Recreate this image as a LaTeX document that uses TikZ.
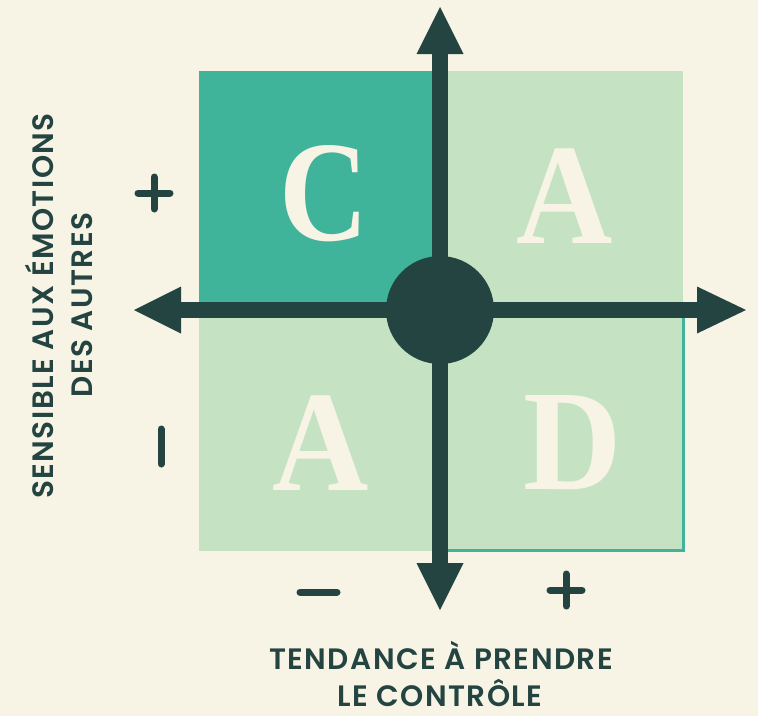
\documentclass[tikz,border=0pt]{standalone}
\usepackage{fontspec}
\newfontfamily\labelfont{Poppins SemiBold}[LetterSpace=5]
\newfontfamily\letterfont{Liberation Serif}
\definecolor{cream}{HTML}{F7F4E6}
\definecolor{tealq}{HTML}{40B49A}
\definecolor{lightq}{HTML}{C5E3C3}
\definecolor{darkq}{HTML}{244442}
\newcommand{\bigletter}[2]{\scalebox{#1}[1]{\letterfont\bfseries\fontsize{143.5}{143.5}\selectfont #2}}
\begin{document}
\begin{tikzpicture}[x=1pt,y=-1pt,
  lettr/.style={text=cream,anchor=base,inner sep=0pt},
  axislabel/.style={text=darkq,font=\labelfont\fontsize{29.5}{29.5}\selectfont,anchor=base,inner sep=0pt},
  sign/.style={draw=darkq,line width=7pt,line cap=round}]
\fill[cream] (0,0) rectangle (758,716);
\useasboundingbox (0,0) rectangle (758,716);
% quadrants
\fill[tealq] (199,71) rectangle (440,310);
\fill[lightq] (440,71) rectangle (683,310);
\fill[lightq] (199,310) rectangle (440,551);
\filldraw[fill=lightq,draw=tealq,line width=2.5pt] (440,310) rectangle (683.5,550.5);
% letters
\node[lettr] (lc) at (324,240) {\bigletter{0.86}{C}};
\node[lettr] (la1) at (565,243) {\bigletter{0.93}{A}};
\node[lettr] (la2) at (321,490) {\bigletter{0.93}{A}};
\node[lettr] (ld) at (573,489) {\bigletter{0.95}{D}};
% axes
\coordinate (O) at (440,310);
\fill[darkq] (181,302) rectangle (697,318);
\fill[darkq] (432,54) rectangle (448,563);
\fill[darkq] (134,310) -- (181,286.5) -- (181,333.5) -- cycle;
\fill[darkq] (746,310) -- (697,286.5) -- (697,333.5) -- cycle;
\fill[darkq] (440,7) -- (416.5,54) -- (463.5,54) -- cycle;
\fill[darkq] (440,610) -- (416.5,563) -- (463.5,563) -- cycle;
\fill[darkq] (O) circle (54);
% signs
\draw[sign] (138,193) -- (170,193);
\draw[sign] (154,177) -- (154,209);
\draw[sign] (161,429) -- (161,464);
\draw[sign] (300,592) -- (337,592);
\draw[sign] (550,590) -- (582,590);
\draw[sign] (566,574) -- (566,606);
% labels
\node[axislabel] (xl1) at (441,669) {TENDANCE À PRENDRE};
\node[axislabel] (xl2) at (440,706) {LE CONTRÔLE};
\node[axislabel,rotate=90] (yl1) at (53,306) {SENSIBLE AUX ÉMOTIONS};
\node[axislabel,rotate=90] (yl2) at (92,305) {DES AUTRES};
\end{tikzpicture}
\end{document}
